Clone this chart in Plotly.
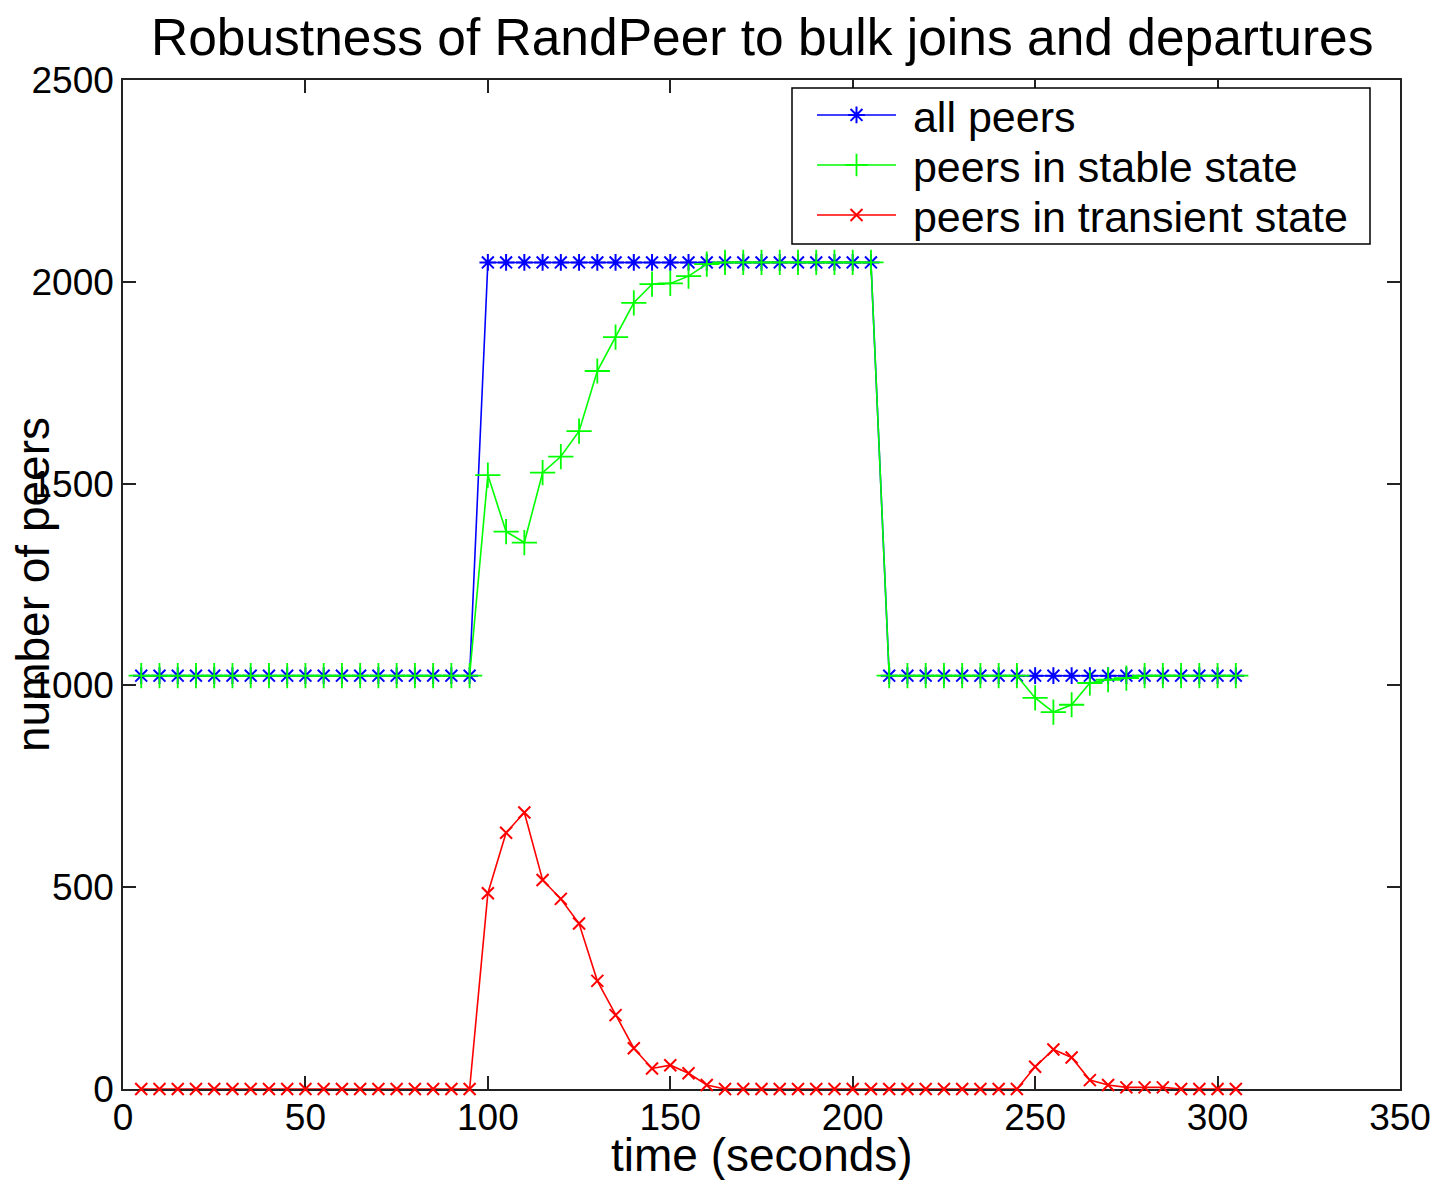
import plotly.graph_objects as go

time_s = [5, 10, 15, 20, 25, 30, 35, 40, 45, 50, 55, 60, 65, 70, 75, 80, 85, 90, 95,
          100, 105, 110, 115, 120, 125, 130, 135, 140, 145, 150, 155, 160,
          165, 170, 175, 180, 185, 190, 195, 200, 205,
          210, 215, 220, 225, 230, 235, 240, 245,
          250, 255, 260, 265, 270, 275, 280, 285, 290, 295, 300, 305]

all_peers = [1024, 1024, 1024, 1024, 1024, 1024, 1024, 1024, 1024, 1024, 1024, 1024, 1024, 1024, 1024, 1024, 1024, 1024, 1024,
             2048, 2048, 2048, 2048, 2048, 2048, 2048, 2048, 2048, 2048, 2048, 2048, 2048,
             2048, 2048, 2048, 2048, 2048, 2048, 2048, 2048, 2048,
             1024, 1024, 1024, 1024, 1024, 1024, 1024, 1024,
             1024, 1024, 1024, 1024, 1024, 1024, 1024, 1024, 1024, 1024, 1024, 1024]

stable_peers = [1024, 1024, 1024, 1024, 1024, 1024, 1024, 1024, 1024, 1024, 1024, 1024, 1024, 1024, 1024, 1024, 1024, 1024, 1024,
                1521, 1381, 1354, 1527, 1567, 1630, 1779, 1863, 1948, 1994, 1996, 2014, 2044,
                2048, 2048, 2048, 2048, 2048, 2048, 2048, 2048, 2048,
                1024, 1024, 1024, 1024, 1024, 1024, 1024, 1024,
                969, 934, 952, 1006, 1014, 1018, 1024, 1024, 1024, 1024, 1024, 1024]

transient_peers = [0, 0, 0, 0, 0, 0, 0, 0, 0, 0, 0, 0, 0, 0, 0, 0, 0, 0, 0,
                   485, 635, 685, 518, 471, 410, 268, 183, 101, 51, 59, 39, 10,
                   0, 0, 0, 0, 0, 0, 0, 0, 0,
                   0, 0, 0, 0, 0, 0, 0, 0,
                   55, 98, 78, 22, 10, 4, 4, 4, 0, 0, 0, 0]

series_names = ["all peers", "peers in stable state", "peers in transient state"]
x_ticks = [0, 50, 100, 150, 200, 250, 300, 350]
y_ticks = [0, 500, 1000, 1500, 2000, 2500]

FONT = "Liberation Sans, Arial, sans-serif"

# plot-area pixel geometry (page coordinates), used to place paper-relative items
PX0, PX1, PY0, PY1 = 123, 1400, 80, 1089


def px(xp):
    return (xp - PX0) / (PX1 - PX0)


def py(yp):
    return (PY1 - yp) / (PY1 - PY0)


fig = go.Figure()
fig.add_trace(go.Scatter(
    x=time_s, y=all_peers, name="\u00a0" + series_names[0], mode="lines+markers",
    line=dict(color="#0000FF", width=1.6),
    marker=dict(symbol="asterisk-open", size=14, color="#0000FF",
                line=dict(color="#0000FF", width=2)),
    cliponaxis=False, legend="legend"))
fig.add_trace(go.Scatter(
    x=time_s, y=stable_peers, name="\u00a0" + series_names[1], mode="lines+markers",
    line=dict(color="#00FF00", width=1.6),
    marker=dict(symbol="cross-thin-open", size=18, color="#00FF00",
                line=dict(color="#00FF00", width=1.8)),
    cliponaxis=False, legend="legend2"))
fig.add_trace(go.Scatter(
    x=time_s, y=transient_peers, name="\u00a0" + series_names[2], mode="lines+markers",
    line=dict(color="#FF0000", width=1.6),
    marker=dict(symbol="x-thin-open", size=12, color="#FF0000",
                line=dict(color="#FF0000", width=2)),
    cliponaxis=False, legend="legend3"))

axis_common = dict(
    showgrid=False, zeroline=False, showline=True, linecolor="#222222", linewidth=1.5,
    mirror="ticks", ticks="inside", ticklen=13, tickwidth=1.5, tickcolor="#222222",
    tickfont=dict(family=FONT, size=37, color="black"), layer="below traces",
    automargin=False,
)


def legend_box(row_y):
    return dict(
        x=px(812), y=py(row_y), xanchor="left", yanchor="middle",
        bgcolor="rgba(0,0,0,0)", borderwidth=0,
        font=dict(family=FONT, size=43, color="black"),
        itemwidth=79,
    )


fig.update_layout(
    width=1437, height=1180,
    margin=dict(l=123, r=37, t=80, b=91, autoexpand=False),
    paper_bgcolor="white", plot_bgcolor="white",
    font=dict(family=FONT, color="black"),
    xaxis=dict(range=[0, 350], tickvals=x_ticks, ticktext=[str(v) for v in x_ticks],
               ticklabelstandoff=-5, **axis_common),
    yaxis=dict(range=[0, 2500], tickvals=y_ticks, ticktext=[str(v) for v in y_ticks], **axis_common),
    showlegend=True,
    legend=legend_box(115),
    legend2=legend_box(165),
    legend3=legend_box(215),
    shapes=[dict(type="rect", xref="paper", yref="paper",
                 x0=px(792), x1=px(1370), y0=py(244), y1=py(88),
                 line=dict(color="black", width=1.5), fillcolor="white", layer="above")],
    annotations=[
        dict(text="Robustness of RandPeer to bulk joins and departures",
             xref="paper", yref="paper", x=0.5, y=py(37),
             xanchor="center", yanchor="middle", showarrow=False,
             font=dict(family=FONT, size=51.5, color="black")),
        dict(text="time (seconds)", xref="paper", yref="paper",
             x=0.5, y=py(1155), xanchor="center", yanchor="middle",
             showarrow=False, font=dict(family=FONT, size=46, color="black")),
        dict(text="number of peers", xref="paper", yref="paper",
             x=px(33), y=py(585), xanchor="center", yanchor="middle",
             textangle=-90, showarrow=False,
             font=dict(family=FONT, size=46, color="black")),
    ],
)

fig.write_html("out.html", config={"displayModeBar": False},
               post_script="document.body.style.margin='0';")
